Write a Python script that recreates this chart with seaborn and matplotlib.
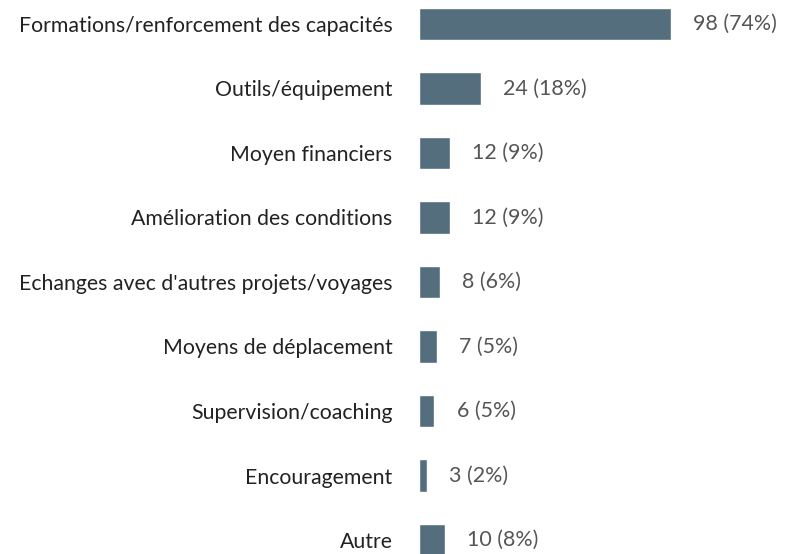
import matplotlib
matplotlib.use("Agg")
import matplotlib.pyplot as plt
import seaborn as sns
import pandas as pd

categories = [
    "Formations/renforcement des capacités",
    "Outils/équipement",
    "Moyen financiers",
    "Amélioration des conditions",
    "Echanges avec d'autres projets/voyages",
    "Moyens de déplacement",
    "Supervision/coaching",
    "Encouragement",
    "Autre",
]
counts = [98, 24, 12, 12, 8, 7, 6, 3, 10]
percents = [74, 18, 9, 9, 6, 5, 5, 2, 8]

df = pd.DataFrame({"category": categories, "count": counts})

sns.set_theme(style="white")
plt.rcParams["font.family"] = ["Lato", "DejaVu Sans"]

fig = plt.figure(figsize=(7.86, 5.54), dpi=100)
ax = fig.add_axes([419 / 786, 0, 1 - 419 / 786, 1])

sns.barplot(data=df, x="count", y="category", orient="h", color="#546e7e",
            saturation=1, width=0.51, ax=ax)

ax.set_xlim(0, (786 - 419) / 2.571)
ax.set_ylim(8.217, -0.372)

for i, (c, p) in enumerate(zip(counts, percents)):
    ax.annotate(f"{c} ({p}%)", xy=(c, i), xytext=(16, 0), textcoords="offset points",
                ha="left", va="center", fontsize=15.4, color="#555555")

ax.set_xlabel("")
ax.set_ylabel("")
ax.set_xticks([])
ax.tick_params(axis="y", length=0, pad=19, labelsize=15.3, labelcolor="#222222")
for s in ax.spines.values():
    s.set_visible(False)

fig.savefig("out.png", dpi=100)
